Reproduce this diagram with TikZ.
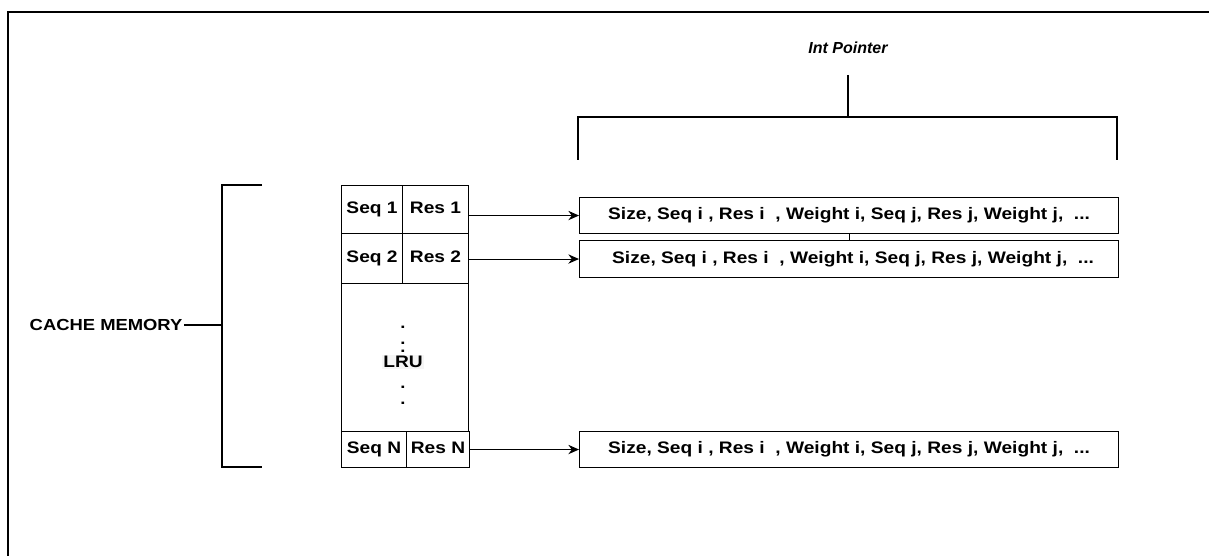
\documentclass[tikz,border=0pt]{standalone}
\usepackage{fontspec}
\setmainfont{Liberation Sans}[FakeStretch=1.15]
\newfontfamily\plainsans{Liberation Sans}
\usetikzlibrary{arrows.meta}

\newcommand\pxu{0.75pt}

\tikzset{
  cell/.style={draw, line width=0.8pt, inner sep=0pt, anchor=north west,
    text height=0.75em, text depth=0.2em,
    font=\bfseries\fontsize{12.5}{14}\selectfont},
  ptrbox/.style={draw, line width=0.8pt, inner sep=0pt, anchor=north west,
    minimum width=539*\pxu, text height=0.75em, text depth=0.1em,
    font=\bfseries\fontsize{12.5}{14}\selectfont},
  bracket/.style={line width=1.6pt},
  link/.style={line width=0.8pt, -{Stealth[length=8pt, width=7pt]}},
  lrudot/.style={inner sep=0pt, font=\bfseries\fontsize{12}{14}\selectfont}
}

\begin{document}
\begin{tikzpicture}[x=0.75pt, y=-0.75pt]
  \useasboundingbox (0,0) rectangle (1209,556);
  % frame
  \draw[line width=1pt] (8,556) -- (8,12) -- (1209,12);

  % int pointer bracket
  \node[font=\plainsans\bfseries\itshape\fontsize{12}{14}\selectfont] (ptrlabel) at (848,48) {Int Pointer};
  \coordinate (stemtop) at (848,75);
  \draw[bracket] (578,160) -- (578,117) -- (1117,117) -- (1117,160);
  \draw[bracket] (stemtop) -- (848,117);

  % cache memory bracket
  \node[anchor=east, inner sep=1pt, font=\bfseries\fontsize{12}{14}\selectfont] (cachelabel) at (184,325) {CACHE MEMORY};
  \coordinate (cachemid) at (222,325);
  \draw[bracket] (262,185) -- (222,185) -- (222,467) -- (262,467);
  \draw[bracket] (cachelabel.east) -- (cachemid);

  % LRU table
  \node[cell, minimum width=61*\pxu, minimum height=48*\pxu] (seqA) at (341,185) {Seq 1};
  \node[cell, minimum width=66*\pxu, minimum height=48*\pxu] (resA) at (402,185) {Res 1};
  \node[cell, minimum width=61*\pxu, minimum height=50*\pxu] (seqB) at (341,233) {Seq 2};
  \node[cell, minimum width=66*\pxu, minimum height=50*\pxu] (resB) at (402,233) {Res 2};
  \node[cell, minimum width=127*\pxu, minimum height=148*\pxu] (lrubox) at (341,283) {};
  \node[cell, minimum width=65*\pxu, minimum height=36*\pxu] (seqN) at (341,431) {Seq N};
  \node[cell, minimum width=63*\pxu, minimum height=36*\pxu] (resN) at (406,431) {Res N};

  \node[fill=black!4, inner sep=1pt, font=\bfseries\fontsize{12.5}{14}\selectfont] (lru) at (403,362) {LRU};
  \foreach \y in {327,343,351,387,403}
    \node[lrudot] at (403,\y) {.};

  % pointer arrays
  \node[ptrbox, minimum height=36*\pxu] (ptrA) at (579,197) {Size, Seq i , Res i \ , Weight i, Seq j, Res j, Weight j, \ ...};
  \node[ptrbox, minimum height=37*\pxu] (ptrB) at (579,240) {\hspace{6pt}Size, Seq i , Res i \ , Weight i, Seq j, Res j, Weight j, \ ...};
  \node[ptrbox, minimum height=36*\pxu] (ptrN) at (579,431) {Size, Seq i , Res i \ , Weight i, Seq j, Res j, Weight j, \ ...};
  \draw[line width=0.6pt] (ptrA.south) -- (ptrB.north);

  \draw[link] (resA.east |- ptrA.west) -- (ptrA.west);
  \draw[link] (resB.east |- ptrB.west) -- (ptrB.west);
  \draw[link] (resN.east |- ptrN.west) -- (ptrN.west);
\end{tikzpicture}
\end{document}
